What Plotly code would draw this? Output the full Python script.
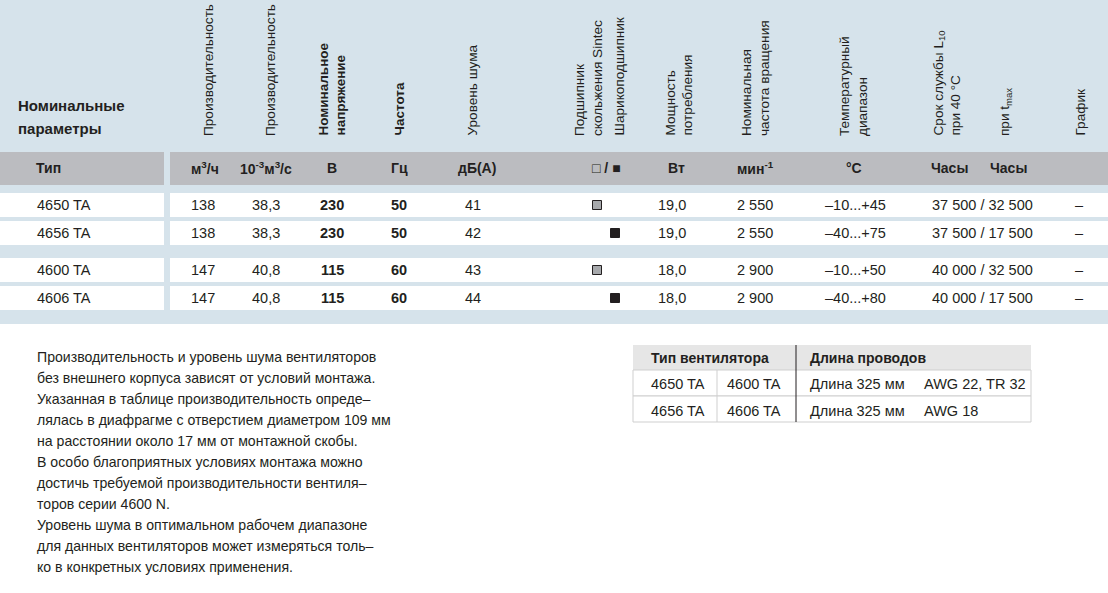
import plotly.graph_objects as go

# ---------------- data ----------------
types = ["4650 TA", "4656 TA", "4600 TA", "4606 TA"]
flow_m3h = ["138", "138", "147", "147"]
flow_m3s = ["38,3", "38,3", "40,8", "40,8"]
voltage = ["230", "230", "115", "115"]
frequency = ["50", "50", "60", "60"]
noise = ["41", "42", "43", "44"]
bearing = ["sleeve", "ball", "sleeve", "ball"]
power = ["19,0", "19,0", "18,0", "18,0"]
speed = ["2 550", "2 550", "2 900", "2 900"]
temp_range = ["–10...+45", "–40...+75", "–10...+50", "–40...+80"]
service_life = ["37 500 / 32 500", "37 500 / 17 500", "40 000 / 32 500", "40 000 / 17 500"]
chart_ref = ["–", "–", "–", "–"]

header_title = ["Номинальные", "параметры"]
rot_headers = [
    "Производительность", "Производительность", "<b>Номинальное<br>напряжение</b>",
    "<b>Частота</b>", "Уровень шума", "Подшипник<br>скольжения Sintec", "Шарикоподшипник",
    "Мощность<br>потребления", "Номинальная<br>частота вращения", "Температурный<br>диапазон",
    "Срок службы L<sub>10</sub><br>при 40 °C", "при t<sub>max</sub>", "График",
]
units = ["Тип", "м<sup>3</sup>/ч", "10<sup>-3</sup>м<sup>3</sup>/с", "В", "Гц", "дБ(А)",
         "□ / ■", "Вт", "мин<sup>-1</sup>", "°C", "Часы", "Часы"]

note_lines = [
    "Производительность и уровень шума вентиляторов",
    "без внешнего корпуса зависят от условий монтажа.",
    "Указанная в таблице производительность опреде–",
    "лялась в диафрагме с отверстием диаметром 109 мм",
    "на расстоянии около 17 мм от монтажной скобы.",
    "В особо благоприятных условиях монтажа можно",
    "достичь требуемой производительности вентиля–",
    "торов серии 4600 N.",
    "Уровень шума в оптимальном рабочем диапазоне",
    "для данных вентиляторов может измеряться толь–",
    "ко в конкретных условиях применения.",
]

wire_header = ["Тип вентилятора", "Длина проводов"]
wire_type_a = ["4650 TA", "4656 TA"]
wire_type_b = ["4600 TA", "4606 TA"]
wire_length = ["Длина 325 мм", "Длина 325 мм"]
wire_gauge = ["AWG 22, TR 32", "AWG 18"]

# ---------------- layout / style ----------------
W, H = 1108, 593
FONT = "Liberation Sans, Arial, sans-serif"
TXT = "#231f20"
BLUE = "#d6e3eb"
GREY = "#bbbcc0"
FS = 14.5

rot_x = [208, 270, 332, 399, 472, 588, 619, 679, 755, 853, 947, 1005, 1080]
unit_x = [48, 205, 266, 332, 399, 477, 606, 676, 755, 854, 949, 1008]
row_top = [193, 221, 258, 286]
row_h = 24
split_l, split_r = 164, 170

fig = go.Figure()
shapes = []
ann = []

def rect(x0, y0, x1, y1, fill, line=None, lw=0):
    shapes.append(dict(type="rect", x0=x0, y0=y0, x1=x1, y1=y1, xref="x", yref="y",
                       fillcolor=fill, line=dict(color=line or fill, width=lw), layer="below"))

def text(x, y, s, size=FS, xa="center", ya="middle", angle=0, align="center"):
    ann.append(dict(x=x, y=y, xref="x", yref="y", text=s, showarrow=False,
                    xanchor=xa, yanchor=ya, textangle=angle, align=align,
                    font=dict(family=FONT, size=size, color=TXT)))

# background band
rect(0, 0, W, 324, BLUE)
# header bar
rect(0, 152, split_l, 185, GREY)
rect(split_r, 152, W, 185, GREY)
# white rows
for t in row_top:
    rect(0, t, split_l, t + row_h, "white")
    rect(split_r, t, W, t + row_h, "white")

# title
text(16, 105, "<b>" + header_title[0] + "</b>", size=15, xa="left")
text(16, 128, "<b>" + header_title[1] + "</b>", size=15, xa="left")

# rotated headers
for x, s in zip(rot_x, rot_headers):
    size = 13.5 if s.startswith("<b>") else 13.6
    text(x, 138, s, size=size, xa="center", ya="bottom", angle=-90, align="left")

# units row
for x, s in zip(unit_x, units):
    text(x, 168, "<b>" + s + "</b>", size=14)

# data rows
for i, t in enumerate(row_top):
    yc = t + row_h / 2
    text(35, yc, types[i], xa="left")
    text(203, yc, flow_m3h[i])
    text(266, yc, flow_m3s[i])
    text(332, yc, "<b>" + voltage[i] + "</b>")
    text(399, yc, "<b>" + frequency[i] + "</b>")
    text(473, yc, noise[i])
    text(672, yc, power[i])
    text(755, yc, speed[i])
    text(855, yc, temp_range[i])
    text(930, yc, service_life[i], xa="left")
    text(1079, yc, chart_ref[i])

# bearing markers
bx = {"sleeve": 597, "ball": 615}
bc = {"sleeve": "#a7a9ac", "ball": TXT}
fig.add_trace(go.Scatter(
    x=[bx[b] for b in bearing],
    y=[t + row_h / 2 for t in row_top],
    mode="markers",
    marker=dict(symbol="square", size=9, color=[bc[b] for b in bearing],
                line=dict(color=TXT, width=1)),
    hoverinfo="skip", showlegend=False))

# note paragraph
for i, s in enumerate(note_lines):
    text(35, 357 + 21.0 * i, s, size=14.1, xa="left")

# wire table
tx0, tx1 = 633, 1031
rect(tx0, 345, tx1, 370, "#e6e6e6")
rect(tx0, 370, tx1, 396, "white", "#cfcfcf", 1)
rect(tx0, 396, tx1, 422, "white", "#cfcfcf", 1)
shapes.append(dict(type="line", x0=717, x1=717, y0=370, y1=422, xref="x", yref="y",
                   line=dict(color="#cfcfcf", width=1)))
shapes.append(dict(type="line", x0=796, x1=796, y0=345, y1=422, xref="x", yref="y",
                   line=dict(color=TXT, width=1)))
text(649, 358, "<b>" + wire_header[0] + "</b>", size=14, xa="left")
text(808, 358, "<b>" + wire_header[1] + "</b>", size=14, xa="left")
for i in range(2):
    yc = 384 + 27 * i
    text(649, yc, wire_type_a[i], xa="left")
    text(725, yc, wire_type_b[i], xa="left")
    text(808, yc, wire_length[i], xa="left")
    text(922, yc, wire_gauge[i], xa="left")

fig.update_layout(
    width=W, height=H, margin=dict(l=0, r=0, t=0, b=0),
    paper_bgcolor="white", plot_bgcolor="white",
    xaxis=dict(range=[0, W], visible=False, fixedrange=True),
    yaxis=dict(range=[H, 0], visible=False, fixedrange=True),
    shapes=shapes, annotations=ann, showlegend=False,
)
fig.write_html("out.html", config={"displayModeBar": False},
               post_script="document.body.style.margin='0';document.body.style.overflow='hidden';")
